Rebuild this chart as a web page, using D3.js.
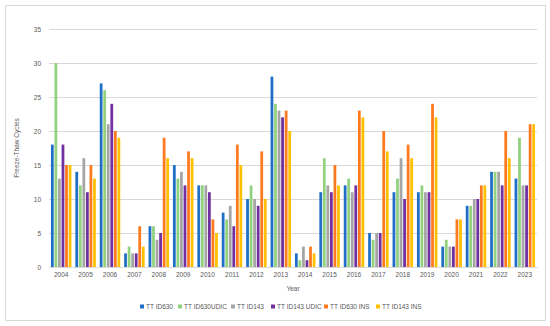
<!DOCTYPE html>
<html>
<head>
<meta charset="utf-8">
<script src="https://cdn.jsdelivr.net/npm/d3@7"></script>
<style>
  body { margin: 0; background: #fff; }
  text { font-family: "Liberation Sans", Arial, sans-serif; fill: #595959; }
</style>
</head>
<body>
<svg class="chart"></svg>
<script>
var years = ["2004","2005","2006","2007","2008","2009","2010","2011","2012","2013",
             "2014","2015","2016","2017","2018","2019","2020","2021","2022","2023"];
var seriesNames = ["TT ID630", "TT ID630UDIC", "TT ID143", "TT ID143 UDIC", "TT ID630 INS", "TT ID143 INS"];
var colors = ["#1f6fc6", "#92d27f", "#a5a5a5", "#7030a0", "#ff7a1f", "#ffc000"];

var id630     = [18,14,27,2,6,15,12,8,10,28,2,11,12,5,11,11,3,9,14,13];
var id630udic = [30,12,26,3,6,13,12,7,12,24,1,16,13,4,13,12,4,9,14,19];
var id143     = [13,16,21,2,4,14,12,9,10,23,3,12,11,5,16,11,3,10,14,12];
var id143udic = [18,11,24,2,5,12,11,6,9,22,1,11,12,5,10,11,3,10,12,12];
var id630ins  = [15,15,20,6,19,17,7,18,17,23,3,15,23,20,18,24,7,12,20,21];
var id143ins  = [15,13,19,3,16,16,5,15,10,20,2,12,22,17,16,22,7,12,16,21];
var yTicks = [0,5,10,15,20,25,30,35];

var series = [id630, id630udic, id143, id143udic, id630ins, id143ins];

var W = 550, H = 326;
var m = {top: 29, right: 13, bottom: 59, left: 49};
var w = W - m.left - m.right, h = H - m.top - m.bottom;

var svg = d3.select(".chart").attr("width", W).attr("height", H);

// outer frame
svg.append("rect")
  .attr("x", 5.5).attr("y", 5.5).attr("width", 540).attr("height", 315)
  .attr("fill", "#fff").attr("stroke", "#d9d9d9");

var g = svg.append("g").attr("transform", "translate(" + m.left + "," + m.top + ")");

var x = d3.scaleBand().domain(years).range([0, w]).paddingInner(0.16).paddingOuter(0.08);
var x1 = d3.scaleBand().domain(d3.range(seriesNames.length)).range([0, x.bandwidth()]).paddingInner(0.22);
var y = d3.scaleLinear().domain([0, 35]).range([h, 0]);

// gridlines
g.append("g")
  .call(d3.axisLeft(y).tickValues(yTicks).tickSize(-w).tickFormat(""))
  .call(function(a) {
    a.select(".domain").remove();
    a.selectAll("line").attr("stroke", "#d9d9d9");
  });

// y labels
g.append("g")
  .call(d3.axisLeft(y).tickValues(yTicks).tickSize(0).tickPadding(8))
  .call(function(a) {
    a.select(".domain").remove();
    a.selectAll("text").style("font-size", "6.5px");
  });

// bars
var yg = g.selectAll(".yr").data(years).enter().append("g")
  .attr("transform", function(d) { return "translate(" + x(d) + ",0)"; });

yg.selectAll("rect")
  .data(function(d, i) { return series.map(function(s, k) { return {k: k, v: s[i]}; }); })
  .enter().append("rect")
  .attr("x", function(d) { return x1(d.k); })
  .attr("width", x1.bandwidth())
  .attr("y", function(d) { return y(d.v); })
  .attr("height", function(d) { return h - y(d.v); })
  .attr("fill", function(d) { return colors[d.k]; });

// x axis
g.append("g")
  .attr("transform", "translate(0," + h + ")")
  .call(d3.axisBottom(x).tickSize(0).tickPadding(5))
  .call(function(a) {
    a.select(".domain").attr("stroke", "#d9d9d9");
    a.selectAll("text").style("font-size", "6.5px");
  });

// axis titles
svg.append("text")
  .attr("x", m.left + w / 2).attr("y", 291)
  .attr("text-anchor", "middle").style("font-size", "6.5px").text("Year");

svg.append("text")
  .attr("transform", "translate(19," + (m.top + h / 2) + ") rotate(-90)")
  .attr("text-anchor", "middle").style("font-size", "6.5px").text("Freeze-Thaw Cycles");

// legend
var legX = [140, 178, 231, 271, 324, 376];
var leg = svg.selectAll(".leg").data(seriesNames).enter().append("g")
  .attr("transform", function(d, i) { return "translate(" + legX[i] + ",307)"; });
leg.append("rect").attr("x", 0).attr("y", -2.5).attr("width", 4).attr("height", 4)
  .attr("fill", function(d, i) { return colors[i]; });
leg.append("text").attr("x", 6).attr("y", 2.2).style("font-size", "6.5px").text(function(d) { return d; });
</script>
</body>
</html>
